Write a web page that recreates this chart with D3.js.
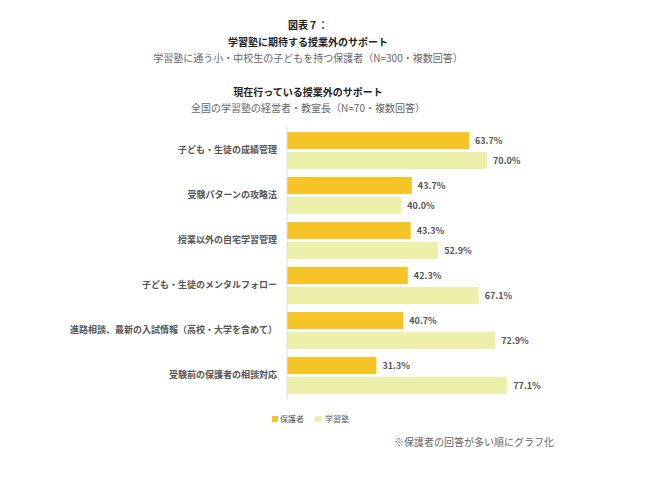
<!DOCTYPE html>
<html><head><meta charset="utf-8">
<script src="https://cdn.jsdelivr.net/npm/d3@7"></script>
<style>
html,body{margin:0;padding:0;background:#fff;}
text{font-family:"Noto Sans CJK JP","Noto Sans",sans-serif;}
</style></head>
<body><svg id="c" width="660" height="479"></svg>
<script>
const categories = ["子ども・生徒の成績管理","受験パターンの攻略法","授業以外の自宅学習管理","子ども・生徒のメンタルフォロー","進路相談、最新の入試情報（高校・大学を含めて）","受験前の保護者の相談対応"];
const seriesNames = ["保護者","学習塾"];
const parents = [63.7,43.7,43.3,42.3,40.7,31.3];
const schools = [70.0,40.0,52.9,67.1,72.9,77.1];
const titles = ["図表７：","学習塾に期待する授業外のサポート","学習塾に通う小・中校生の子どもを持つ保護者（N=300・複数回答）","現在行っている授業外のサポート","全国の学習塾の経営者・教室長（N=70・複数回答）"];
const footnote = "※保護者の回答が多い順にグラフ化";
const colors = ["#F6C426","#EDF0AA"];

const svg = d3.select("#c");
const W=660,H=479;
svg.append("rect").attr("width",W).attr("height",H).attr("fill","#fff");

const cx = 308;
const tSpec = [[29,true,"#222"],[46,true,"#222"],[62,false,"#666"],[96,true,"#222"],[112,false,"#666"]];
titles.forEach((t,i)=>{
  svg.append("text").attr("x",cx).attr("y",tSpec[i][0]).attr("text-anchor","middle")
    .attr("font-size",10).attr("font-weight",tSpec[i][1]?"bold":"normal").attr("fill",tSpec[i][2]).text(t);
});

const x = d3.scaleLinear().domain([0,100]).range([287,287+285.7]);
const y0 = d3.scaleBand().domain(categories).range([128,398]).paddingInner(0.18).paddingOuter(0.09);
const y1 = d3.scaleBand().domain(seriesNames).range([0,y0.bandwidth()]).paddingInner(0.15);

const data = categories.map((c,i)=>({c, vals:[{s:seriesNames[0],v:parents[i]},{s:seriesNames[1],v:schools[i]}]}));

const g = svg.selectAll("g.grp").data(data).join("g").attr("transform",d=>`translate(0,${y0(d.c)})`);
g.selectAll("rect").data(d=>d.vals).join("rect")
  .attr("x",x(0)).attr("y",d=>y1(d.s)).attr("width",d=>x(d.v)-x(0)).attr("height",y1.bandwidth())
  .attr("fill",(d,i)=>colors[i]);
g.selectAll("text.v").data(d=>d.vals).join("text").attr("class","v")
  .attr("x",d=>x(d.v)+6).attr("y",d=>y1(d.s)+y1.bandwidth()/2).attr("dy","0.35em")
  .attr("font-size",9).attr("font-weight","bold").attr("fill","#555").text(d=>d.v.toFixed(1)+"%");

// axis
const ax = svg.append("g").attr("transform",`translate(${x(0)},0)`).call(d3.axisLeft(y0).tickSize(0).tickPadding(10));
ax.select(".domain").attr("stroke","#ddd").attr("d",`M0,127V400`);
ax.selectAll("text").attr("font-size",9).attr("font-weight","bold").attr("fill","#555")
  .attr("font-family",'"Noto Sans CJK JP",sans-serif');

// legend
const lg = svg.append("g");
const lx = [272,315];
seriesNames.forEach((s,i)=>{
  lg.append("rect").attr("x",lx[i]).attr("y",416).attr("width",6).attr("height",6).attr("fill",colors[i]);
  lg.append("text").attr("x",lx[i]+8+(i?2:0)).attr("y",419).attr("dy","0.35em").attr("font-size",8).attr("fill","#555").text(s);
});

svg.append("text").attr("x",394).attr("y",442).attr("dy","0.35em").attr("font-size",10).attr("fill","#666").text(footnote);
</script></body></html>
